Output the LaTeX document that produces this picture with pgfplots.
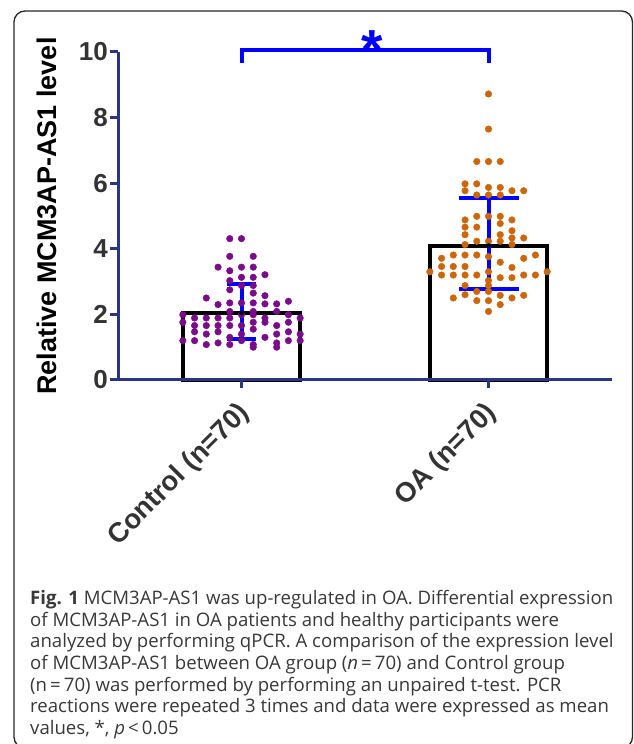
\documentclass[border=0pt]{standalone}
\usepackage{fontspec}
\setmainfont{Liberation Sans}
\newfontfamily\capfont{Open Sans}
\usepackage{pgfplots}
\pgfplotsset{compat=1.18}

\definecolor{axisblue}{RGB}{44,52,132}
\definecolor{pblue}{RGB}{0,0,255}
\definecolor{ctrlpurple}{RGB}{122,12,140}
\definecolor{oaorange}{RGB}{204,102,10}
\definecolor{tickgray}{RGB}{51,51,51}

\begin{document}
\begin{tikzpicture}[x=1pt,y=1pt]
\useasboundingbox (0,0) rectangle (633,744);
\draw[black!85, line width=1.3pt, rounded corners=11pt] (14,-4) rectangle (632.5,733);

\begin{axis}[
  at={(118pt,364pt)}, anchor=south west,
  width=494pt, height=328pt, scale only axis,
  xmin=-0.5, xmax=1.5, ymin=0, ymax=10,
  axis x line*=bottom, axis y line*=left,
  axis line style={draw=axisblue, line width=3pt},
  xtick={0,1}, xticklabels={Control (n=70), OA (n=70)},
  ytick={0,2,4,6,8,10},
  tick align=outside, major tick length=8pt,
  tick style={draw=axisblue, line width=3pt},
  /pgf/number format/assume math mode=true,
  tick label style={font=\fontsize{26}{26}\selectfont\bfseries, text=tickgray},
  yticklabel style={inner sep=2pt},
  xticklabel style={font=\fontsize{27.5}{27.5}\selectfont\bfseries,
    xshift=4pt, yshift=-21pt, rotate=45, anchor=east, inner sep=0pt},
  ylabel={Relative MCM3AP-AS1 level},
  ylabel style={at={(axis description cs:-0.1437,0.5)}, anchor=center,
    font=\fontsize{27}{27}\selectfont\bfseries, text=black},
  axis on top,
  clip=false,
]
% bars (mean)
\addplot[ybar, bar width=0.472, draw=black, fill=white, line width=4pt]
  coordinates {(0,2.04) (1,4.10)};

% Control dots
\addplot[only marks, mark=*, mark size=3.3pt, color=ctrlpurple] coordinates {
 (-0.0475,4.31) (0,4.31)
 (-0.0475,3.77) (0.0475,3.77)
 (-0.095,3.44) (0,3.44) (0.0475,3.44)
 (-0.0475,3.33) (0.095,3.21)
 (0,3.13) (0.0475,3.13) (-0.0475,3.03)
 (0,2.88) (0.0475,2.88) (-0.0475,2.75) (0.0475,2.65) (0.095,2.57)
 (-0.1425,2.50) (0.19,2.40)
 (-0.0475,2.35) (0,2.35) (0.0475,2.35) (-0.095,2.30) (0.095,2.32) (0.1425,2.32)
 (-0.0475,2.09) (0.0475,2.09) (0.1425,2.09)
 (-0.2375,1.99) (0,1.99) (0.0475,1.99) (0.19,1.99)
 (-0.19,1.89) (-0.1425,1.89) (-0.095,1.89) (-0.0475,1.89) (0.095,1.89) (0.2375,1.89)
 (-0.2375,1.76) (0.0475,1.76) (0.095,1.76) (0.19,1.76)
 (-0.19,1.66) (-0.1425,1.66) (-0.095,1.66) (-0.0475,1.66) (0,1.66) (0.1425,1.66)
 (0.0475,1.55)
 (-0.19,1.47) (-0.095,1.47) (0.19,1.47)
 (-0.1425,1.40) (0,1.40) (0.1425,1.40) (0.2375,1.40)
 (-0.0475,1.30) (0.095,1.30)
 (-0.2375,1.20) (-0.19,1.20) (0,1.20) (0.19,1.20) (0.2375,1.20)
 (-0.095,1.13) (0.1425,1.13)
 (-0.1425,1.08) (-0.0475,1.08) (0.0475,1.08)
 (0.0475,1.00) (0.1425,1.00)
};

% OA dots
\addplot[only marks, mark=*, mark size=3.3pt, color=oaorange] coordinates {
 (1,8.72) (1,7.65)
 (0.9525,6.66) (1,6.66) (1.0475,6.66)
 (0.905,5.98) (0.9525,5.98) (1,5.87) (1.0475,5.87)
 (0.905,5.77) (1.095,5.77) (1.1425,5.77)
 (0.9525,5.64) (1,5.64) (1.0475,5.64)
 (0.9525,4.99) (1,4.99) (1.0475,4.99)
 (0.905,4.88) (1.095,4.88) (1.0475,4.77)
 (0.905,4.66) (0.9525,4.66) (1.095,4.55)
 (0.905,4.43) (1.0475,4.43) (1.095,4.33) (1.1425,4.33)
 (0.9525,4.23) (1,4.23) (1.0475,4.23)
 (0.905,4.13) (1.095,4.13)
 (0.8575,3.81) (0.905,3.81) (0.9525,3.81) (1.19,3.81)
 (1,3.76) (0.81,3.71) (1.1425,3.71) (1.0475,3.59)
 (0.81,3.46) (0.8575,3.46) (0.905,3.46) (1.095,3.43)
 (0.7625,3.30) (1,3.30) (1.2375,3.30)
 (0.81,3.20) (0.8575,3.20) (0.905,3.20) (0.9525,3.20) (1.1425,3.20) (1.19,3.20)
 (1.0475,3.12) (1.095,3.12) (1,3.03)
 (0.905,2.88) (1,2.88)
 (0.9525,2.70) (1,2.70) (0.905,2.60)
 (1.0475,2.58) (1.1425,2.58)
 (0.8575,2.50) (1.095,2.50)
 (0.9525,2.42) (1,2.42) (1.0475,2.30) (1,2.09)
};

% error bars
\addplot[only marks, mark=none, error bars/.cd, y dir=both, y explicit,
  error bar style={draw=pblue, line width=4pt},
  error mark options={draw=pblue, rotate=90, mark size=14.5pt, line width=4pt}]
  coordinates {(0,2.04) += (0,0.88) -= (0,0.80)};
\addplot[only marks, mark=none, error bars/.cd, y dir=both, y explicit,
  error bar style={draw=pblue, line width=4pt},
  error mark options={draw=pblue, rotate=90, mark size=30pt, line width=4pt}]
  coordinates {(1,4.10) += (0,1.44) -= (0,1.32)};

% significance bracket
\addplot[pblue, line width=4pt, mark=none]
  coordinates {(0,9.67) (0,10.07) (1,10.07) (1,9.67)};
\node[anchor=base, text=pblue, inner sep=0pt,
  font=\fontsize{55}{55}\selectfont\bfseries] at (axis cs:0.53,9.5) {*};
\end{axis}

\begin{scope}[every node/.style={anchor=base west, inner sep=0pt,
    font=\capfont\fontsize{18.6}{19}\selectfont, text=black!78}]
\node at (30,139.5) {\textbf{Fig. 1} MCM3AP-AS1 was up-regulated in OA. Differential expression};
\node at (30,117.8) {of MCM3AP-AS1 in OA patients and healthy participants were};
\node at (30,96.1) {analyzed by performing qPCR. A comparison of the expression level};
\node at (30,74.4) {of MCM3AP-AS1 between OA group (\textit{n}\,=\,70) and Control group};
\node at (30,52.7) {(n\,=\,70) was performed by performing an unpaired t-test. PCR};
\node at (30,31) {reactions were repeated 3 times and data were expressed as mean};
\node at (30,9.3) {values, *, \textit{p}\,<\,0.05};
\end{scope}
\end{tikzpicture}
\end{document}
